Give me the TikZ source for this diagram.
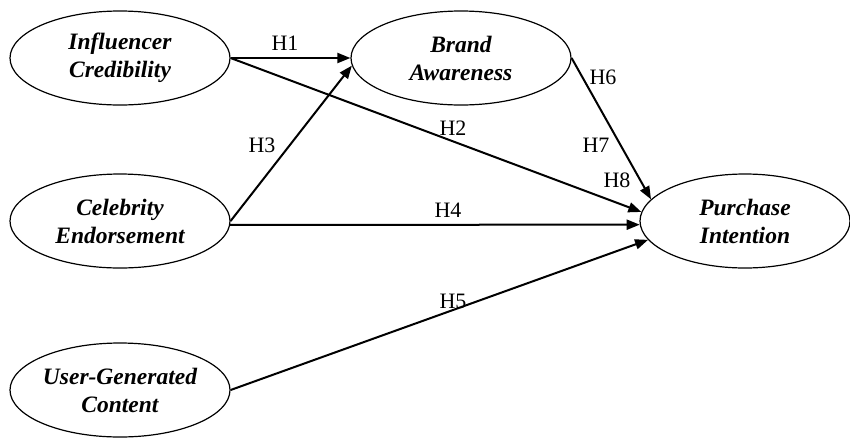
\documentclass[tikz,border=0pt]{standalone}
\usepackage{fontspec}
\setmainfont{Liberation Serif}
\usetikzlibrary{shapes.geometric,arrows.meta}
\begin{document}
\begin{tikzpicture}[x=1pt,y=-1pt,
  construct/.style={ellipse,draw,line width=1.2pt,minimum width=220pt,minimum height=94pt,inner sep=0pt,
     align=center,font=\fontsize{23.5}{28}\selectfont\bfseries\itshape},
  arr/.style={line width=2pt,-{Triangle[length=13pt,width=10pt]}},
  hyp/.style={font=\fontsize{22}{24}\selectfont,inner sep=0pt}]
\useasboundingbox (0,0) rectangle (850,437);
\node[construct] (ic) at (120,58) {Influencer\\Credibility};
\node[construct] (ba) at (461,58) {Brand\\Awareness};
\node[construct] (ce) at (120,221) {Celebrity\\Endorsement};
\node[construct] (ugc) at (120,390) {User-Generated\\Content};
\node[construct,minimum width=210pt] (pi) at (745,221) {Purchase\\Intention};
\draw[arr] (ic.east) -- (ba.west);
\draw[arr] (ic.east) -- (pi.175);
\draw[arr] (ce.east) -- (ba.184);
\draw[arr] (ce.-2) -- (pi.182);
\draw[arr] (ugc.east) -- (pi.191);
\draw[arr] (ba.east) -- (pi.167);
\node[hyp] (h1) at (285,43) {H1};
\node[hyp] (h2) at (453,128) {H2};
\node[hyp] (h3) at (262,145) {H3};
\node[hyp] (h4) at (448,210) {H4};
\node[hyp] (h5) at (453,301) {H5};
\node[hyp] (h6) at (603,77) {H6};
\node[hyp] (h7) at (596,145) {H7};
\node[hyp] (h8) at (617,180) {H8};
\end{tikzpicture}
\end{document}
